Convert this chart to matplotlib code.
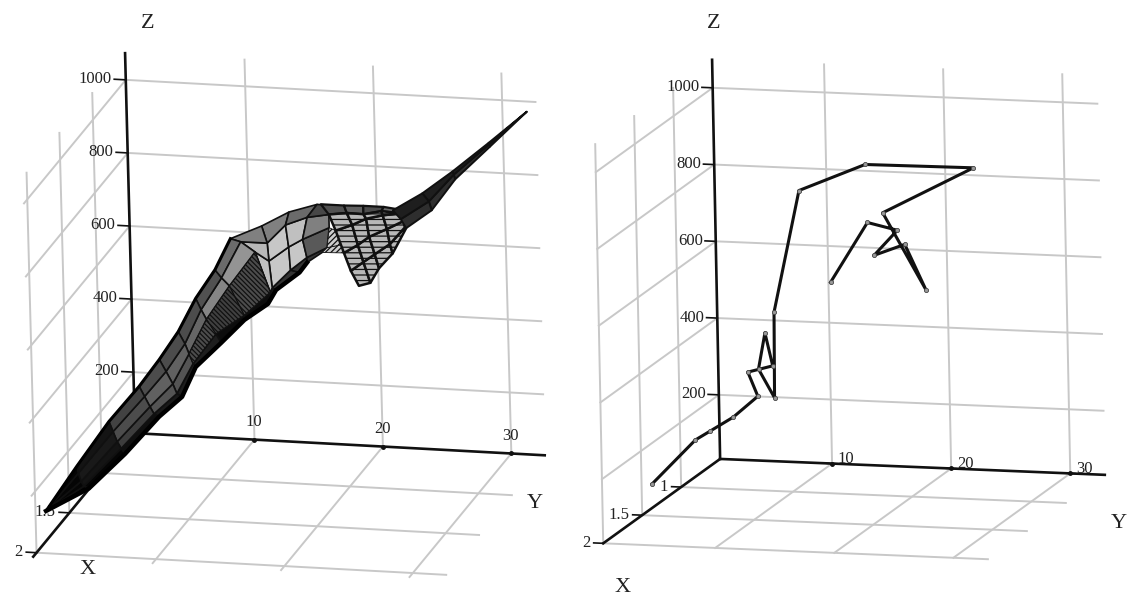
import matplotlib
matplotlib.use("Agg")
import matplotlib.pyplot as plt
import numpy as np
from mpl_toolkits.mplot3d import proj3d

plt.rcParams['font.family'] = ['Liberation Serif', 'DejaVu Serif']
plt.rcParams['hatch.linewidth'] = 0.9

x_ticks = [1, 1.5, 2]
y_ticks = [10, 20, 30]
z_ticks = [200, 400, 600, 800, 1000]
x_start = 0.5
z_start = 33
z_end = 1073

# surface, main band: one row per station along the ridge, one column per rail
band_x = [1.9, 1.75, 1.6, 1.5, 1.4, 1.3, 1.2, 1.15, 1.1, 1.05, 1.0, 1.0, 1.0]
band_y = [[1.0, 1.0, 1.0, 1.0, 1.0],
          [2.7, 2.8, 3.0, 3.2, 3.6],
          [4.5, 4.8, 5.1, 5.4, 5.7],
          [6.4, 6.8, 7.2, 7.5, 7.9],
          [7.5, 8.0, 8.5, 8.8, 9.2],
          [8.5, 9.0, 9.3, 9.6, 9.8],
          [9.4, 9.8, 10.2, 10.9, 11.3],
          [10.7, 11.2, 11.8, 12.9, 12.9],
          [11.7, 12.5, 13.6, 14.7, 14.5],
          [13.9, 14.3, 14.4, 14.6, 14.9],
          [15.8, 15.5, 15.7, 15.8, 16.5],
          [18.0, 17.2, 16.8, 17.1, 17.1],
          [19.7, 18.9, 18.9, 18.7, 18.3]]
band_z = [[126, 126, 126, 126, 126],
          [219, 200, 178, 165, 160],
          [312, 285, 258, 240, 226],
          [390, 363, 336, 317, 310],
          [444, 412, 379, 353, 345],
          [500, 468, 441, 415, 406],
          [571, 541, 515, 477, 453],
          [641, 620, 599, 521, 508],
          [717, 710, 684, 576, 544],
          [745, 699, 650, 577, 572],
          [776, 740, 680, 617, 612],
          [801, 764, 703, 654, 640],
          [801, 775, 739, 684, 670]]
band_shade = [[.02, .02, .02, .00],
              [.08, .10, .08, .02],
              [.26, .30, .24, .06],
              [.30, .38, .33, .10],
              [.30, .38, .33, .12],
              [.30, .40, .30, .12],
              [.32, .52, .25, .05],
              [.42, .58, .30, .05],
              [.50, .72, .75, .10],
              [.50, .78, .78, .20],
              [.42, .75, .78, .20],
              [.28, .50, .35, .20]]

# surface, diamond part right of the dip (all at x = 1)
diamond_y = [[18.3, 20.1, 21.6, 23.2, 24.2],
             [18.9, 20.3, 21.6, 23.0, 24.6],
             [19.4, 20.7, 21.8, 23.1, 24.6],
             [20.0, 21.1, 22.0, 23.4, 24.7],
             [20.5, 21.5, 22.4, 23.6, 24.8],
             [21.1, 22.0, 22.7, 23.8, 24.9]]
diamond_z = [[802, 802, 804, 804, 800],
             [775, 782, 781, 792, 789],
             [732, 750, 769, 781, 789],
             [672, 696, 720, 744, 768],
             [624, 650, 673, 703, 751],
             [584, 594, 635, 678, 749]]

# surface, fan of fine lines in the dip
fan_y = [[18.9, 18.7, 18.3], [19.4, 19.8, 20.0]]
fan_z = [[739, 684, 670], [732, 694, 672]]

# surface, spike up to the far end
spike_x = [1.0, 0.9, 0.75, 0.6, 0.5]
spike_y = [[23.9, 24.5, 24.9],
           [25.7, 26.2, 26.4],
           [27.3, 27.4, 27.5],
           [29.4, 29.4, 29.5],
           [31.9, 31.9, 31.9]]
spike_z = [[796, 773, 749],
           [824, 803, 779],
           [854, 846, 833],
           [904, 899, 894],
           [972, 972, 972]]

# right chart, trajectory
line_x = [1.5, 1.5, 1.25] + [1.0] * 18
line_y = [1.5, 5.2, 4.8, 5.1, 7.2, 6.4, 8.5, 7.9, 7.3, 8.6, 8.7, 11.0, 16.6, 25.7,
          18.0, 21.5, 19.8, 17.2, 19.2, 16.7, 13.5]
line_z = [116, 235, 221, 221, 278, 340, 359, 444, 349, 276, 499, 819, 894, 897,
          770, 574, 690, 658, 726, 743, 583]

fig = plt.figure(figsize=(11.29, 5.97), dpi=100)
AX_PX = 760


def add_panel(cx, cy, box, x_end, y_start, y_end, elev, azim, roll):
    half = 0.95 / 1.85 * AX_PX
    rect = [(cx - half) / 1129, 1 - (cy + half) / 597, AX_PX / 1129, AX_PX / 597]
    ax = fig.add_axes(rect, projection='3d', proj_type='ortho', computed_zorder=False)
    ax.patch.set_alpha(0)
    ax.view_init(elev=elev, azim=azim, roll=roll)
    ax.set_xlim(x_start, x_end, view_margin=0)
    ax.set_ylim(y_start, y_end, view_margin=0)
    ax.set_zlim(z_start, z_end, view_margin=0)
    scale = AX_PX / 1.85
    ax.set_box_aspect(box, zoom=np.linalg.norm(box) / (1.8294640721620434 * 25 / 24 * scale))
    ax.set_axis_off()
    return ax


def label3d(ax, x, y, z, s, **kw):
    # text2D at the projected point, so the text keeps a true 2D position
    px, py, _ = proj3d.proj_transform(x, y, z, ax.get_proj())
    ax.text2D(px, py, s, transform=ax.transData, va='center', fontsize=12, color='#222222', zorder=2, **kw)


def draw_frame(ax, x_end, y_start, y_end):
    grid = dict(color='#c8c8c8', lw=1.4, zorder=1)
    for x in x_ticks:
        ax.plot([x, x], [y_start, y_end], [z_start, z_start], **grid)
        ax.plot([x, x], [y_start, y_start], [z_start, z_end], **grid)
    for y in y_ticks:
        ax.plot([x_start, x_end], [y, y], [z_start, z_start], **grid)
        ax.plot([x_start, x_start], [y, y], [z_start, z_end], **grid)
    for z in z_ticks:
        ax.plot([x_start, x_start], [y_start, y_end], [z, z], **grid)
        ax.plot([x_start, x_end], [y_start, y_start], [z, z], **grid)
    axis = dict(color='#111111', lw=1.9, zorder=2)
    ax.plot([x_start, x_end], [y_start, y_start], [z_start, z_start], **axis)
    ax.plot([x_start, x_start], [y_start, y_end], [z_start, z_start], **axis)
    ax.plot([x_start, x_start], [y_start, y_start], [z_start, z_end], **axis)
    for z in z_ticks:
        ax.plot([x_start, x_start], [y_start - 0.9, y_start], [z, z], color='#111111', lw=1.2, zorder=2)
        label3d(ax, x_start, y_start - 1.1, z, str(z), ha='right')
    for x in x_ticks:
        ax.plot([x, x], [y_start - 0.8, y_start], [z_start, z_start], color='#111111', lw=1.2, zorder=2)
        label3d(ax, x, y_start - 1.1, z_start, f'{x:g}', ha='right')


def mesh(ax, xs, ys, zs, shade, zorder, hatch=None, lw=1.2):
    ys = np.array(ys, dtype=float)
    zs = np.array(zs, dtype=float)
    xs = np.repeat(np.array(xs, dtype=float)[:, None], ys.shape[1], axis=1)
    colors = plt.cm.gray(np.array(shade, dtype=float))
    surf = ax.plot_surface(xs, ys, zs, rstride=1, cstride=1, facecolors=colors, shade=False,
                           edgecolor='#101010', linewidth=lw, zorder=zorder)
    if hatch:
        surf.set_hatch(hatch)
    return surf


# left chart
ax = add_panel(284, 316, [411, 423, 399], 2.05, 0.7, 32.6, 17.7, 14.8, 1.5)
draw_frame(ax, 2.05, 0.7, 32.6)
for y in y_ticks:
    ax.plot([x_start], [y], [z_start], marker='o', ms=2.5, color='#111111', zorder=2)
    label3d(ax, x_start, y, z_start + 48, str(y), ha='center')

b_y = np.array(band_y)
b_z = np.array(band_z)
b_s = np.array(band_shade)
mesh(ax, band_x, b_y, b_z, b_s, 4)
# hatched lower sheet under the ridge
mesh(ax, band_x[6:9], b_y[6:9, 2:4], b_z[6:9, 2:4], b_s[6:8, 2:3], 5, hatch='\\\\\\\\\\\\\\', lw=0.8)
mesh(ax, band_x[5:7], b_y[5:7, 2:4], b_z[5:7, 2:4], b_s[5:6, 2:3], 5, hatch='\\\\\\\\\\\\\\', lw=0.8)
ax.plot(band_x[:9], b_y[:9, 0], b_z[:9, 0], color='black', lw=2.2, zorder=6)
ax.plot(band_x[:12], b_y[:12, 4], b_z[:12, 4], color='black', lw=3.2, zorder=6)

mesh(ax, [1.0, 1.0], fan_y, fan_z, [[.8, .8]], 5, hatch='//////', lw=0.6)
mesh(ax, [1.0] * 2, diamond_y[:2], diamond_z[:2], [[.32, .38, .30, .42]], 6, lw=1.6)
mesh(ax, [1.0] * 5, diamond_y[1:], diamond_z[1:], [[.72] * 4] * 4, 6, hatch='---', lw=1.8)
mesh(ax, spike_x, spike_y, spike_z, [[.12, .18]] * 4, 7, lw=1.4)

# right chart
ax2 = add_panel(850, 309.5, [415, 401, 408], 2.0, 0.6, 32.9, 11.9, 16.6, 1.15)
draw_frame(ax2, 2.0, 0.6, 32.9)
for y in y_ticks:
    ax2.plot([x_start], [y], [z_start], marker='o', ms=2.5, color='#111111', zorder=2)
    ax2.plot([x_start, x_start], [y - 0.4, y + 0.4], [z_start, z_start], color='#111111', lw=1.2, zorder=2)
    label3d(ax2, x_start, y + 0.5, z_start + 12, str(y), ha='left')
ax2.plot(line_x, line_y, line_z, color='#111111', lw=2.2, marker='o', ms=3, mfc='#999999', mec='#444444',
         mew=0.6, zorder=5)

for label, px, py in [('Z', 148, 24), ('X', 88, 569), ('Y', 535, 503),
                      ('Z', 714, 24), ('X', 623, 588), ('Y', 1119, 524)]:
    fig.text(px / 1129, 1 - py / 597, label, ha='center', va='center', fontsize=16, color='#222222')

fig.savefig('out.png', dpi=100)
